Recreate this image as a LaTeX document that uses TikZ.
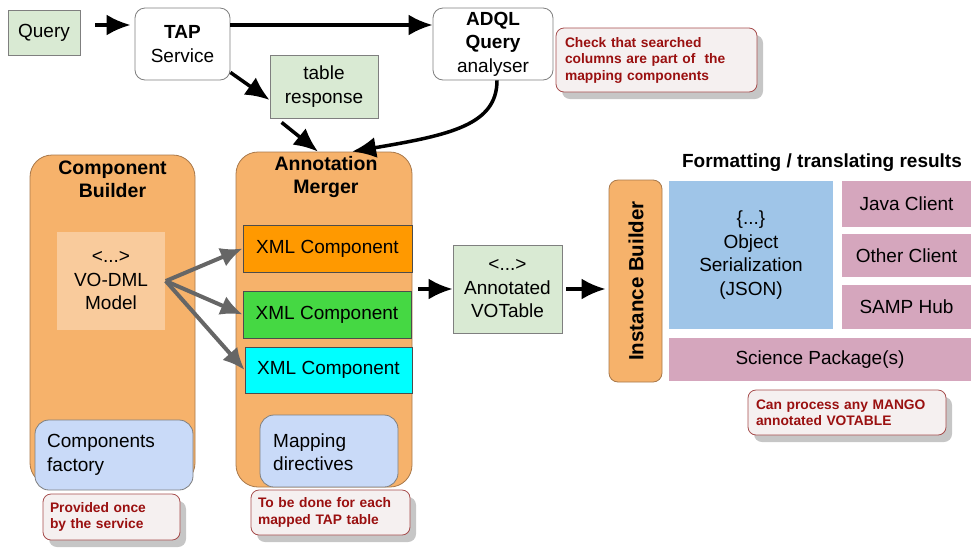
\documentclass[tikz,border=0pt]{standalone}
\usepackage{fontspec}
\setmainfont{Liberation Sans}
\usetikzlibrary{arrows.meta,shadows}
\definecolor{gfill}{HTML}{D9EAD3}
\definecolor{gline}{HTML}{7F7F7F}
\definecolor{orfill}{HTML}{F6B26B}
\definecolor{orline}{HTML}{A8784A}
\definecolor{ltor}{HTML}{F9CB9C}
\definecolor{xmlor}{HTML}{FF9900}
\definecolor{xmlgr}{HTML}{45D843}
\definecolor{xmlcy}{HTML}{00FFFF}
\definecolor{ltblue}{HTML}{C9DAF8}
\definecolor{blue2}{HTML}{9FC5E8}
\definecolor{pink2}{HTML}{D5A6BD}
\definecolor{notefill}{HTML}{F5F0F0}
\definecolor{noteline}{HTML}{A64D4D}
\definecolor{notetext}{HTML}{9A1010}
\definecolor{arrgray}{HTML}{666666}
\tikzset{
  base/.style={font=\fontsize{19}{23.5}\selectfont, align=center, inner sep=0pt},
  greenbox/.style={base, draw=gline, fill=gfill, line width=0.8pt},
  whitebox/.style={base, draw=gline, fill=white, rounded corners=10pt, line width=0.8pt},
  orbox/.style={base, draw=orline, fill=orfill, rounded corners=22pt, line width=0.8pt},
  xmlbox/.style={base, draw=black!70, line width=0.8pt},
  bluebox/.style={base, draw=gline, fill=ltblue, rounded corners=14pt, line width=0.8pt},
  flatbox/.style={base, draw=white, line width=1.5pt},
  notebox/.style={draw=noteline, fill=notefill, rounded corners=8pt, line width=0.8pt,
     font=\fontsize{13.8}{16.5}\selectfont\bfseries, text=notetext, align=left, inner sep=0pt,
     drop shadow={shadow xshift=6pt, shadow yshift=-7pt, fill=black!50, opacity=0.45}},
  ttl/.style={font=\fontsize{19.5}{23}\selectfont\bfseries, align=center, inner sep=0pt},
  arr/.style={line width=3.5pt, -{Latex[length=24pt,width=21pt]}},
  garr/.style={line width=4pt, draw=arrgray, -{Latex[length=22pt,width=20pt]}, color=arrgray},
}
\begin{document}
\begin{tikzpicture}[x=1pt,y=-1pt]
\useasboundingbox (0,0) rectangle (972,550);
% top row
\node[greenbox, minimum width=72pt, minimum height=45pt] (q) at (44,32.5) {Query};
\node[whitebox, minimum width=95pt, minimum height=72pt] (tap) at (182.5,44) {\textbf{TAP}\\Service};
\node[whitebox, minimum width=120pt, minimum height=72pt] (adql) at (493,44) {\textbf{ADQL}\\\textbf{Query}\\analyser};
\node[notebox, minimum width=201pt, minimum height=64pt, text width=183pt] (chk) at (656.5,60)
  {Check that searched\\columns are part of~ the\\mapping components};
\node[greenbox, minimum width=108pt, minimum height=63pt] (tr) at (324,86.5) {table\\response};
% component builder
\node[orbox, minimum width=165pt, minimum height=330pt] (cb) at (112.5,320) {};
\node[ttl] (cbt) at (112.5,179) {Component\\Builder};
\node[flatbox, fill=ltor, draw=none, minimum width=108pt, minimum height=98pt] (vo) at (111,281) {<...>\\VO-DML\\Model};
\node[bluebox, minimum width=158pt, minimum height=70pt] (cf) at (114,455) {};
\node[base, align=left, anchor=west] (cft) at (47,455) {Components\\factory};
\node[notebox, minimum width=137pt, minimum height=46pt, text width=123pt] (prov) at (111.5,517)
  {Provided once\\by the service};
% annotation merger
\node[orbox, minimum width=176pt, minimum height=335pt] (am) at (324,319.5) {};
\node[ttl] (amt) at (326,177) {Annotation\\Merger};
\node[xmlbox, fill=xmlor, minimum width=169pt, minimum height=47pt] (x1) at (327.5,248.5) {XML Component};
\node[xmlbox, fill=xmlgr, minimum width=168pt, minimum height=47pt] (x2) at (327,314.5) {XML Component};
\node[xmlbox, fill=xmlcy, minimum width=167pt, minimum height=46pt] (x3) at (328.5,370) {XML Component};
\node[bluebox, minimum width=138pt, minimum height=72pt] (md) at (329,451) {};
\node[base, align=left, anchor=west] (mdt) at (273,452) {Mapping\\directives};
\node[notebox, minimum width=159pt, minimum height=45pt, text width=145pt] (tbd) at (330.5,512.5)
  {To be done for each\\mapped TAP table};
% annotated votable
\node[greenbox, minimum width=109pt, minimum height=88pt] (ann) at (507.5,289) {<...>\\Annotated\\VOTable};
% instance builder
\node[orbox, rounded corners=9pt, minimum width=53pt, minimum height=202pt] (ib) at (635.5,281) {};
\node[ttl, rotate=90, font=\fontsize{20.5}{23}\selectfont\bfseries] (ibt) at (636,281) {Instance Builder};
% results
\node[font=\fontsize{19}{22}\selectfont\bfseries, inner sep=0pt] (fmt) at (822,163) {Formatting / translating results};
\node[flatbox, fill=blue2, minimum width=166pt, minimum height=150pt] (os) at (751,255) {\{...\}\\Object\\Serialization\\(JSON)};
\node[flatbox, fill=pink2, minimum width=131pt, minimum height=48pt] (jc) at (906.5,204) {Java Client};
\node[flatbox, fill=pink2, minimum width=131pt, minimum height=45pt] (oc) at (906.5,255.5) {Other Client};
\node[flatbox, fill=pink2, minimum width=131pt, minimum height=46pt] (sh) at (906.5,307) {SAMP Hub};
\node[flatbox, fill=pink2, minimum width=304pt, minimum height=45pt] (sp) at (820,359.5) {Science Package(s)};
\node[notebox, minimum width=198pt, minimum height=45pt, text width=182pt] (can) at (847,412.5)
  {Can process any MANGO\\annotated VOTABLE};
% connectors
\draw[arr, shorten <=15pt, shorten >=4pt] ([yshift=7.5pt]q.east) -- ([yshift=19pt]tap.west);
\draw[arr] ([yshift=19pt]tap.east) -- ([yshift=19pt]adql.west);
\draw[arr] ([yshift=8pt]tap.south east) -- ([yshift=-13.5pt]tr.west);
\draw[arr] ([xshift=12pt,yshift=-4pt]tr.south west) -- ([xshift=-6pt]am.north);
\draw[arr] ([xshift=4pt]adql.south) .. controls (497,125) and (450,135) .. ([xshift=28pt]am.north);
\draw[garr] (vo.east) -- (x1.west);
\draw[garr] (vo.east) -- (x2.west);
\draw[garr] (vo.east) -- (x3.west);
\draw[arr, shorten <=6pt] (am.east |- ann.west) -- (ann.west);
\draw[arr, shorten <=4pt, shorten >=3pt] (ann.east) -- (ann.east -| ib.west);
\end{tikzpicture}
\end{document}
